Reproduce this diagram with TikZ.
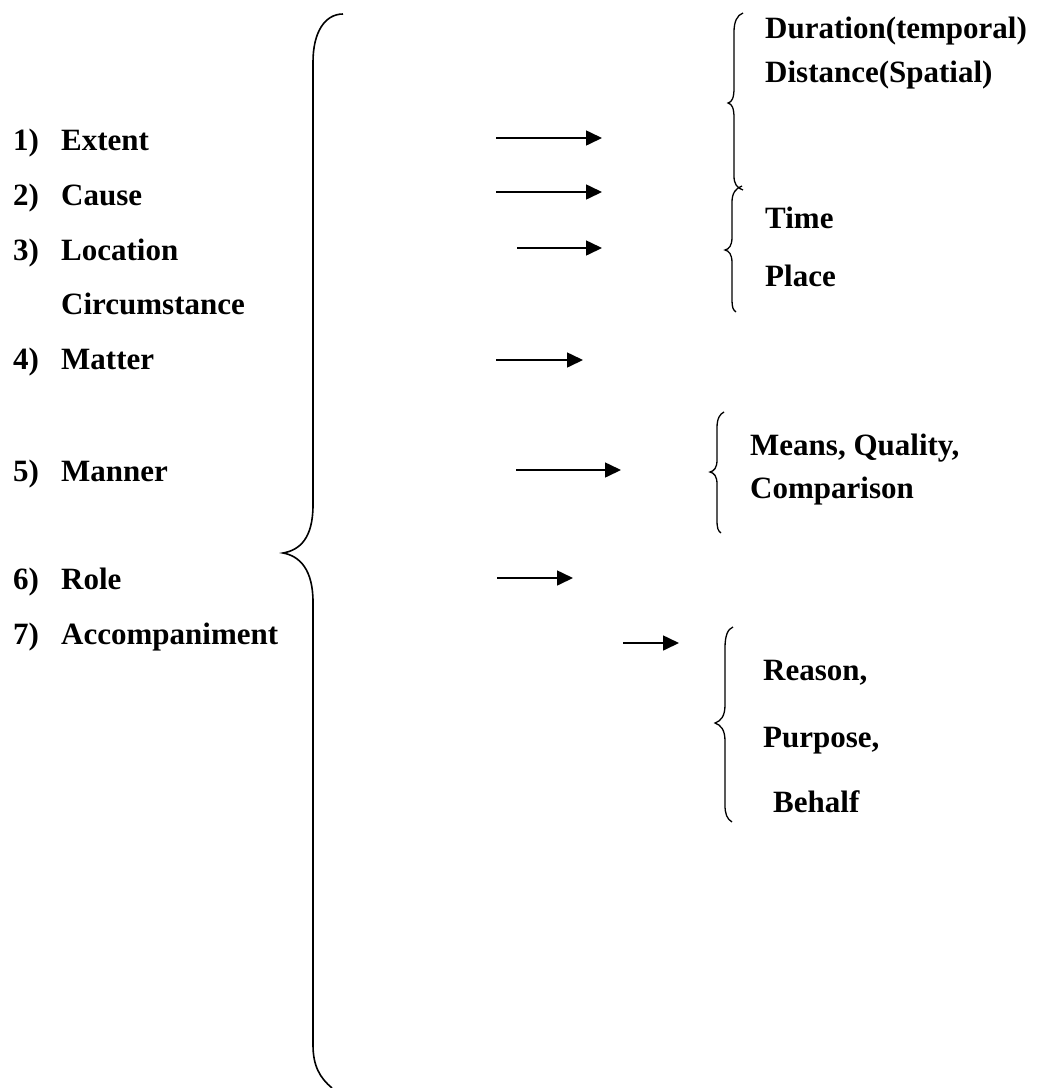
\documentclass[tikz,border=0pt]{standalone}
\usepackage{fontspec}
\setmainfont{Liberation Serif}
\usetikzlibrary{arrows.meta}
\tikzset{
  lbl/.style={anchor=base west, inner sep=0pt, font=\fontsize{31}{37}\selectfont\bfseries},
  arr/.style={line width=1.6pt, -{Triangle[length=16pt,width=15pt]}},
  brc/.style={line width=1.6pt},
  sbrc/.style={line width=1.3pt}
}
\newcommand{\numlab}[2]{\makebox[48pt][l]{#1}#2}
\begin{document}
\begin{tikzpicture}[x=1pt,y=-1pt]
\useasboundingbox (0,0) rectangle (1040,1088);
% left column
\node[lbl] (extent) at (13,150) {\numlab{1)}{Extent}};
\node[lbl] (cause) at (13,205) {\numlab{2)}{Cause}};
\node[lbl] (location) at (13,260) {\numlab{3)}{Location}};
\node[lbl] (circ) at (61,314) {Circumstance};
\node[lbl] (matter) at (13,369) {\numlab{4)}{Matter}};
\node[lbl] (manner) at (13,481) {\numlab{5)}{Manner}};
\node[lbl] (role) at (13,589) {\numlab{6)}{Role}};
\node[lbl] (accomp) at (13,644) {\numlab{7)}{Accompaniment}};
% big brace
\draw[brc] (343,14) .. controls (325,14) and (313,32) .. (313,62)
  -- (313,505) .. controls (313,538) and (300,550) .. (283,553)
  .. controls (300,556) and (313,570) .. (313,602)
  -- (313,1045) .. controls (313,1066) and (320,1078) .. (332,1088);
% arrows
\coordinate (a1s) at (496,138); \coordinate (a1e) at (602,138);
\coordinate (a2s) at (496,192); \coordinate (a2e) at (602,192);
\coordinate (a3s) at (517,248); \coordinate (a3e) at (602,248);
\coordinate (a4s) at (496,360); \coordinate (a4e) at (583,360);
\coordinate (a5s) at (516,470); \coordinate (a5e) at (621,470);
\coordinate (a6s) at (497,578); \coordinate (a6e) at (573,578);
\coordinate (a7s) at (623,643); \coordinate (a7e) at (679,643);
\draw[arr] (a1s) -- (a1e);
\draw[arr] (a2s) -- (a2e);
\draw[arr] (a3s) -- (a3e);
\draw[arr] (a4s) -- (a4e);
\draw[arr] (a5s) -- (a5e);
\draw[arr] (a6s) -- (a6e);
\draw[arr] (a7s) -- (a7e);
% small brace 1
\draw[sbrc] (743,13) .. controls (737,15) and (734,22) .. (734,32)
  -- (734,88) .. controls (734,98) and (732,102) .. (728,103)
  .. controls (732,104) and (734,108) .. (734,118)
  -- (734,176) .. controls (734,184) and (737,188) .. (743,190);
\node[lbl] (dur) at (765,38) {Duration(temporal)};
\node[lbl] (dist) at (765,82) {Distance(Spatial)};
% small brace 2
\draw[sbrc] (742,186) .. controls (736,188) and (732,193) .. (732,202)
  -- (732,237) .. controls (732,246) and (729,249) .. (725,250)
  .. controls (729,251) and (732,254) .. (732,263)
  -- (732,300) .. controls (732,307) and (733,310) .. (736,312);
\node[lbl] (time) at (765,228) {Time};
\node[lbl] (place) at (765,286) {Place};
% small brace 3
\draw[sbrc] (724,412) .. controls (720,414) and (717,418) .. (717,428)
  -- (717,460) .. controls (717,468) and (714,471) .. (710,472)
  .. controls (714,473) and (717,476) .. (717,484)
  -- (717,520) .. controls (717,528) and (718,531) .. (721,533);
\node[lbl] (means) at (750,455) {Means, Quality,};
\node[lbl] (comp) at (750,498) {Comparison};
% small brace 4
\draw[sbrc] (733,627) .. controls (728,629) and (725,635) .. (725,648)
  -- (725,705) .. controls (725,716) and (721,721) .. (715,723)
  .. controls (721,725) and (725,730) .. (725,741)
  -- (725,805) .. controls (725,814) and (727,819) .. (732,822);
\node[lbl] (reason) at (763,680) {Reason,};
\node[lbl] (purpose) at (763,747) {Purpose,};
\node[lbl] (behalf) at (773,812) {Behalf};
\end{tikzpicture}
\end{document}
